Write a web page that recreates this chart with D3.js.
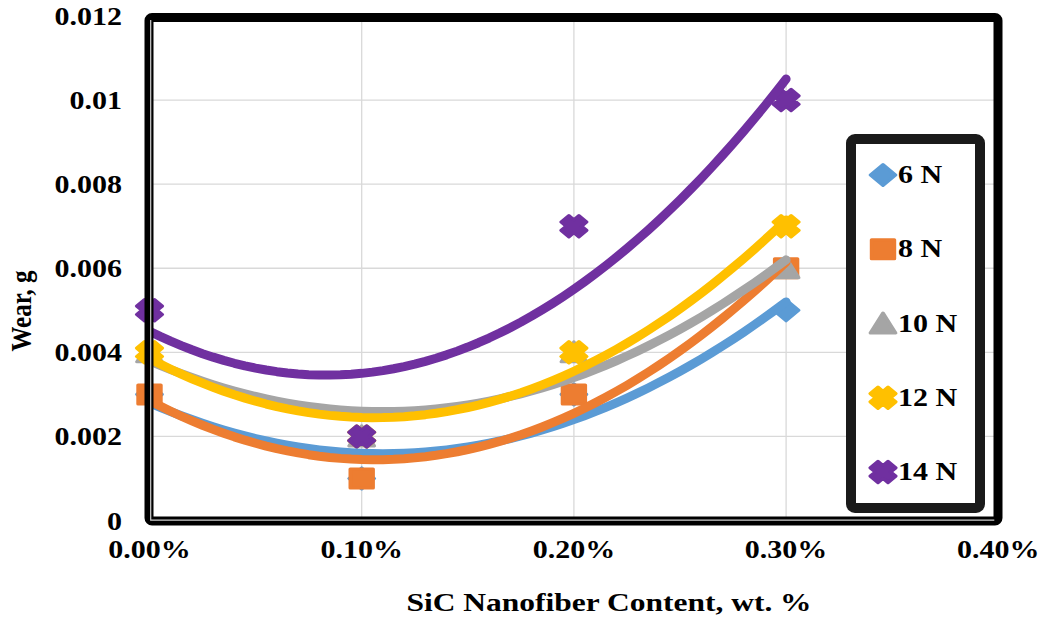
<!DOCTYPE html>
<html>
<head>
<meta charset="utf-8">
<script src="https://cdn.jsdelivr.net/npm/d3@7"></script>
<style>
  html, body { margin: 0; padding: 0; background: #fff; }
  svg { display: block; }
  text { font-family: "Liberation Serif", "Times New Roman", serif; font-weight: bold; fill: #000; }
</style>
</head>
<body>
<svg id="chart" width="1045" height="622"></svg>
<script>
// SiC nanofiber content (wt. %) on the x axis
const categories = [0, 0.1, 0.2, 0.3];
const seriesNames = ["6 N", "8 N", "10 N", "12 N", "14 N"];
const seriesColors = ["#5B9BD5", "#ED7D31", "#A5A5A5", "#FFC000", "#7030A0"];
const seriesMarkers = ["diamond", "square", "triangle", "cross", "cross"];

// Wear loss in grams for each applied load
const wear6N  = [0.003, 0.001, 0.003, 0.005];
const wear8N  = [0.003, 0.001, 0.003, 0.006];
const wear10N = [0.004, 0.002, 0.004, 0.006];
const wear12N = [0.004, 0.002, 0.004, 0.007];
const wear14N = [0.005, 0.002, 0.007, 0.010];

const xTicks = [0, 0.1, 0.2, 0.3, 0.4];
const xTickLabels = ["0.00%", "0.10%", "0.20%", "0.30%", "0.40%"];
const yTicks = [0, 0.002, 0.004, 0.006, 0.008, 0.01, 0.012];
const yTickLabels = ["0", "0.002", "0.004", "0.006", "0.008", "0.01", "0.012"];

const allWear = [wear6N, wear8N, wear10N, wear12N, wear14N];

const svg = d3.select("#chart");
const SX = 1.2;             // horizontal text stretch
const FONT = 25;

const x = d3.scaleLinear().domain([0, 0.4]).range([149.5, 998.3]);
const y = d3.scaleLinear().domain([0, 0.012]).range([520.5, 16]);

// gridlines
const grid = svg.append("g").attr("stroke", "#d9d9d9").attr("stroke-width", 1.3);
grid.selectAll("line.h").data(yTicks.slice(1, -1)).join("line")
  .attr("x1", x(0)).attr("x2", x(0.4))
  .attr("y1", d => y(d)).attr("y2", d => y(d));
grid.selectAll("line.v").data(xTicks.slice(1, -1)).join("line")
  .attr("y1", y(0.012)).attr("y2", y(0))
  .attr("x1", d => x(d)).attr("x2", d => x(d));

// quadratic least-squares trendline for one series
function quadFit(xs, ys) {
  const n = xs.length;
  let s1 = 0, s2 = 0, s3 = 0, s4 = 0, t0 = 0, t1 = 0, t2 = 0;
  xs.forEach((xv, i) => {
    const yv = ys[i];
    s1 += xv; s2 += xv * xv; s3 += xv ** 3; s4 += xv ** 4;
    t0 += yv; t1 += xv * yv; t2 += xv * xv * yv;
  });
  const M = [[n, s1, s2, t0], [s1, s2, s3, t1], [s2, s3, s4, t2]];
  for (let c = 0; c < 3; c++) {
    for (let r = c + 1; r < 3; r++) {
      const f = M[r][c] / M[c][c];
      for (let k = c; k < 4; k++) M[r][k] -= f * M[c][k];
    }
  }
  const coef = [0, 0, 0];
  for (let r = 2; r >= 0; r--) {
    let s = M[r][3];
    for (let k = r + 1; k < 3; k++) s -= M[r][k] * coef[k];
    coef[r] = s / M[r][r];
  }
  return xv => coef[0] + coef[1] * xv + coef[2] * xv * xv;
}

// marker shapes (drawn around 0,0, then stretched horizontally)
function markerPath(type) {
  if (type === "diamond") return "M0,-10.5 L10.5,0 L0,10.5 L-10.5,0 Z";
  if (type === "square") return "M-9.5,-9.5 H9.5 V9.5 H-9.5 Z";
  if (type === "triangle") return "M0,-10.5 L10.5,9.5 L-10.5,9.5 Z";
  // fat x-shaped cross
  const L = 10.5, a = 4.6;
  const pts = [[a, L], [a, a], [L, a], [L, -a], [a, -a], [a, -L], [-a, -L], [-a, -a], [-L, -a], [-L, a], [-a, a], [-a, L]];
  const c = Math.SQRT1_2;
  return "M" + pts.map(([px, py]) => [(px - py) * c, (px + py) * c].map(v => v.toFixed(2)).join(",")).join(" L") + " Z";
}

function drawMarker(g, type, color, cx, cy) {
  g.append("path")
    .attr("d", markerPath(type))
    .attr("transform", `translate(${cx},${cy}) scale(1.2,1)`)
    .attr("fill", color)
    .attr("stroke", color)
    .attr("stroke-width", 3)
    .attr("stroke-linejoin", "round");
}

// data markers
const markers = svg.append("g");
allWear.forEach((vals, si) => {
  vals.forEach((v, i) => drawMarker(markers, seriesMarkers[si], seriesColors[si], x(categories[i]), y(v)));
});

// polynomial (order 2) trendlines
const line = d3.line().x(d => x(d[0])).y(d => y(d[1]));
const trend = svg.append("g").attr("fill", "none").attr("stroke-linecap", "round").attr("stroke-linejoin", "round");
allWear.forEach((vals, si) => {
  const f = quadFit(categories, vals);
  const pts = d3.range(0, 61).map(k => { const xv = 0.3 * k / 60; return [xv, f(xv)]; });
  trend.append("path").attr("d", line(pts))
    .attr("stroke", seriesColors[si]).attr("stroke-width", 9);
});

// plot frame
svg.append("rect")
  .attr("x", 149).attr("y", 17.5).attr("width", 849).attr("height", 503.5)
  .attr("rx", 3).attr("fill", "none").attr("stroke", "#000").attr("stroke-width", 9);
svg.append("path")
  .attr("d", `M${x(0) + 1.2},${y(0.012) + 4} V${y(0) - 0.3} H${x(0.4) - 4}`)
  .attr("fill", "none").attr("stroke", "#d0d0d0").attr("stroke-width", 1.2);

// axes
const yAxis = svg.append("g").attr("transform", `translate(${x(0)},0)`)
  .call(d3.axisLeft(y).tickValues(yTicks).tickFormat((d, i) => yTickLabels[i]).tickSize(0).tickPadding(23));
yAxis.select(".domain").remove();
yAxis.attr("font-family", null).attr("font-size", null);
yAxis.selectAll("text").attr("font-size", FONT)
  .attr("transform", `scale(${SX},1)`).attr("dy", "0.34em");

const xAxis = svg.append("g").attr("transform", `translate(0,${y(0)})`)
  .call(d3.axisBottom(x).tickValues(xTicks).tickFormat((d, i) => xTickLabels[i]).tickSize(0).tickPadding(20));
xAxis.select(".domain").remove();
xAxis.attr("font-family", null).attr("font-size", null);
xAxis.selectAll("text").attr("font-size", FONT);
xAxis.selectAll(".tick").each(function (d) {
  d3.select(this).attr("transform", `translate(${x(d)},0) scale(${SX},1)`);
});

// axis titles
svg.append("text")
  .attr("transform", `translate(609,611) scale(1.26,1)`)
  .attr("text-anchor", "middle").attr("font-size", FONT)
  .text("SiC Nanofiber Content, wt. %");
svg.append("text")
  .attr("transform", `translate(31,311) scale(${SX},1) rotate(-90)`)
  .attr("text-anchor", "middle").attr("font-size", FONT)
  .text("Wear, g");

// legend
const legend = svg.append("g");
legend.append("rect")
  .attr("x", 851).attr("y", 139).attr("width", 129).attr("height", 369)
  .attr("rx", 4).attr("fill", "#fff").attr("stroke", "#1a1a1a").attr("stroke-width", 10);
const legendY = d3.scalePoint().domain(seriesNames).range([175, 472]);
seriesNames.forEach((name, si) => {
  const cy = legendY(name);
  drawMarker(legend, seriesMarkers[si], seriesColors[si], 883, cy);
  legend.append("text")
    .attr("transform", `translate(898,${cy + 8}) scale(${SX},1)`)
    .attr("font-size", FONT).text(name);
});
</script>
</body>
</html>
